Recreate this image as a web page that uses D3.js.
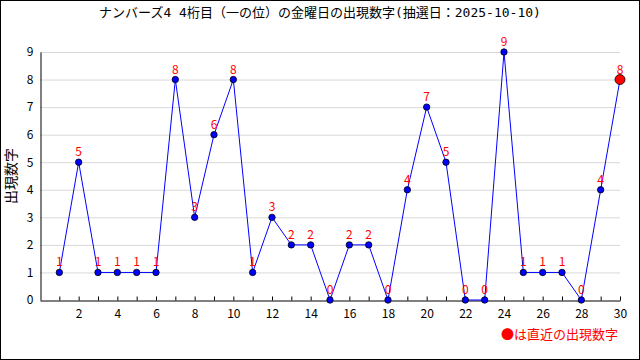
<!DOCTYPE html>
<html>
<head>
<meta charset="utf-8">
<script src="https://cdn.jsdelivr.net/npm/d3@7"></script>
<style>
  body { margin: 0; background: #fff; }
  svg { display: block; }
  text { font-family: "Noto Sans CJK JP", "DejaVu Sans", sans-serif; }
</style>
</head>
<body>
<svg id="chart" width="640" height="360"></svg>
<script>
const titleText = 'ナンバーズ4 4桁目（一の位）の金曜日の出現数字(抽選日：2025-10-10)';
const yLabel = '出現数字';
const legendText = '●は直近の出現数字';
const draws = d3.range(1, 31);
const digits = [1, 5, 1, 1, 1, 1, 8, 3, 6, 8, 1, 3, 2, 2, 0, 2, 2, 0, 4, 7, 5, 0, 0, 9, 1, 1, 1, 0, 4, 8];
const yTicks = d3.range(0, 10);

const data = draws.map((d, i) => ({ x: d, y: digits[i] }));

const svg = d3.select('#chart');
const width = 640;
const height = 360;
const margin = { top: 52, right: 20, bottom: 60, left: 40 };

// frame
svg.append('rect')
  .attr('x', 0.5).attr('y', 0.5)
  .attr('width', width - 1).attr('height', height - 1)
  .attr('fill', '#fff').attr('stroke', '#000');

const xScale = d3.scaleLinear()
  .domain([0, 30])
  .range([margin.left, width - margin.right]);

const yScale = d3.scaleLinear()
  .domain([0, 9])
  .range([height - margin.bottom, margin.top]);

// grid
svg.append('g')
  .selectAll('line')
  .data(yTicks.filter((d) => d > 0))
  .enter()
  .append('line')
  .attr('x1', xScale(0))
  .attr('x2', xScale(30))
  .attr('y1', (d) => yScale(d) + 0.5)
  .attr('y2', (d) => yScale(d) + 0.5)
  .attr('stroke', '#d8d8d8');

// y axis
const yAxis = svg.append('g')
  .attr('transform', `translate(${xScale(0) + 0.5},0)`)
  .call(d3.axisLeft(yScale).tickValues(yTicks).tickSize(0).tickPadding(7));
yAxis.select('.domain').attr('stroke', '#000');
yAxis.selectAll('text').attr('font-size', 12).attr('fill', '#000');

// x axis
const xAxis = svg.append('g')
  .attr('transform', `translate(0,${yScale(0) + 0.5})`)
  .call(d3.axisBottom(xScale).tickValues(draws).tickSizeInner(-4).tickSizeOuter(0)
    .tickPadding(9)
    .tickFormat((d) => (d % 2 === 0 ? d : '')));
xAxis.select('.domain').attr('stroke', '#000');
xAxis.selectAll('.tick line').attr('stroke', '#000');
xAxis.selectAll('text').attr('font-size', 12).attr('fill', '#000');

// title
svg.append('text')
  .attr('x', width / 2)
  .attr('y', 17)
  .attr('text-anchor', 'middle')
  .attr('font-size', 13)
  .style('font-family', '"DejaVu Sans Mono", "Noto Sans CJK JP", monospace')
  .text(titleText);

// y label
svg.append('text')
  .attr('transform', 'rotate(-90)')
  .attr('x', -176)
  .attr('y', 16)
  .attr('text-anchor', 'middle')
  .attr('font-size', 14)
  .text(yLabel);

const line = d3.line()
  .x((d) => xScale(d.x))
  .y((d) => yScale(d.y));

svg.append('path')
  .datum(data)
  .attr('fill', 'none')
  .attr('stroke', '#0000ff')
  .attr('stroke-width', 1)
  .attr('d', line);

// labels
svg.append('g')
  .selectAll('text')
  .data(data)
  .enter()
  .append('text')
  .attr('x', (d) => xScale(d.x))
  .attr('y', (d) => yScale(d.y) - 6)
  .attr('text-anchor', 'middle')
  .attr('font-size', 12)
  .attr('fill', '#ff0000')
  .text((d) => d.y);

// points
svg.append('g')
  .selectAll('circle')
  .data(data)
  .enter()
  .append('circle')
  .attr('cx', (d) => xScale(d.x))
  .attr('cy', (d) => yScale(d.y))
  .attr('r', (d, i) => (i === data.length - 1 ? 5 : 3.2))
  .attr('fill', (d, i) => (i === data.length - 1 ? '#ff0000' : '#0000ff'))
  .attr('stroke', '#000')
  .attr('stroke-width', 0.8);

// legend
svg.append('text')
  .attr('x', 618)
  .attr('y', 339)
  .attr('text-anchor', 'end')
  .attr('font-size', 13)
  .attr('fill', '#ff0000')
  .text(legendText);
</script>
</body>
</html>
